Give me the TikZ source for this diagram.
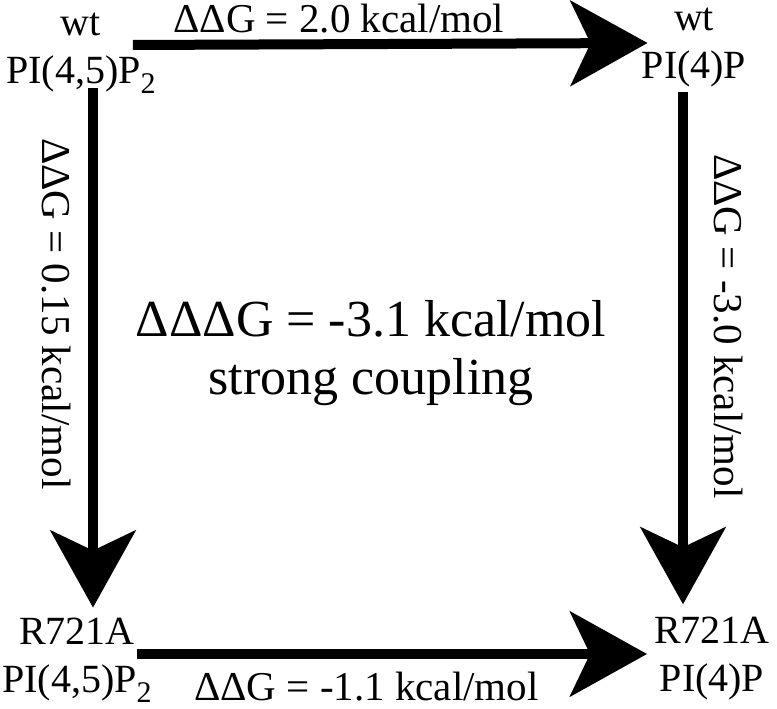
\documentclass[tikz,border=0pt]{standalone}
\usepackage{fontspec}
\setmainfont{Liberation Serif}
\usetikzlibrary{arrows.meta,positioning}
\newcommand{\subtwo}{\raisebox{-10pt}{\fontsize{30}{30}\selectfont 2}}

\begin{document}
\begin{tikzpicture}[
	x=1pt, y=1pt,
	state/.style={align=center, inner sep=0pt, font=\fontsize{40}{48}\selectfont},
	dlabel/.style={inner sep=0pt, font=\fontsize{41}{48}\selectfont},
	summary/.style={align=center, inner sep=0pt, font=\fontsize{52}{58}\selectfont},
	arrow/.style={-{Stealth[length=77pt, width=85pt, inset=20pt]}, line width=10pt}
]
\useasboundingbox (0,0) rectangle (777,709);
\node (tl) [state] at (81,656) {wt\\PI(4,5)P\subtwo};
\node (tr) [state] at (694,661) {wt\\PI(4)P};
\node (bl) [state] at (77,49) {R721A\\PI(4,5)P\subtwo};
\node (br) [state] at (712,50) {R721A\\PI(4)P};
\node (coupling) [summary] at (371,356) {ΔΔΔG = -3.1 kcal/mol\\strong coupling};
\draw [arrow] ([xshift=-23pt,yshift=8pt]tl.east) -- node[dlabel, above=6pt, pos=0.4] {ΔΔG = 2.0 kcal/mol} ([xshift=6pt,yshift=5pt]tr.west);
\draw [arrow] ([xshift=12pt,yshift=5pt]tl.south) -- node[dlabel, sloped, below=17pt, pos=0.434] {ΔΔG = 0.15 kcal/mol} ([xshift=16pt,yshift=10pt]bl.north);
\draw [arrow] ([xshift=-11pt,yshift=-4pt]tr.south) -- node[dlabel, sloped, above=26pt, pos=0.458] {ΔΔG = -3.0 kcal/mol} ([xshift=-29pt,yshift=13pt]br.north);
\draw [arrow] ([xshift=-15pt,yshift=6pt]bl.east) -- node[dlabel, below=13pt, pos=0.45] {ΔΔG = -1.1 kcal/mol} ([xshift=-7pt,yshift=5pt]br.west);
\end{tikzpicture}
\end{document}
